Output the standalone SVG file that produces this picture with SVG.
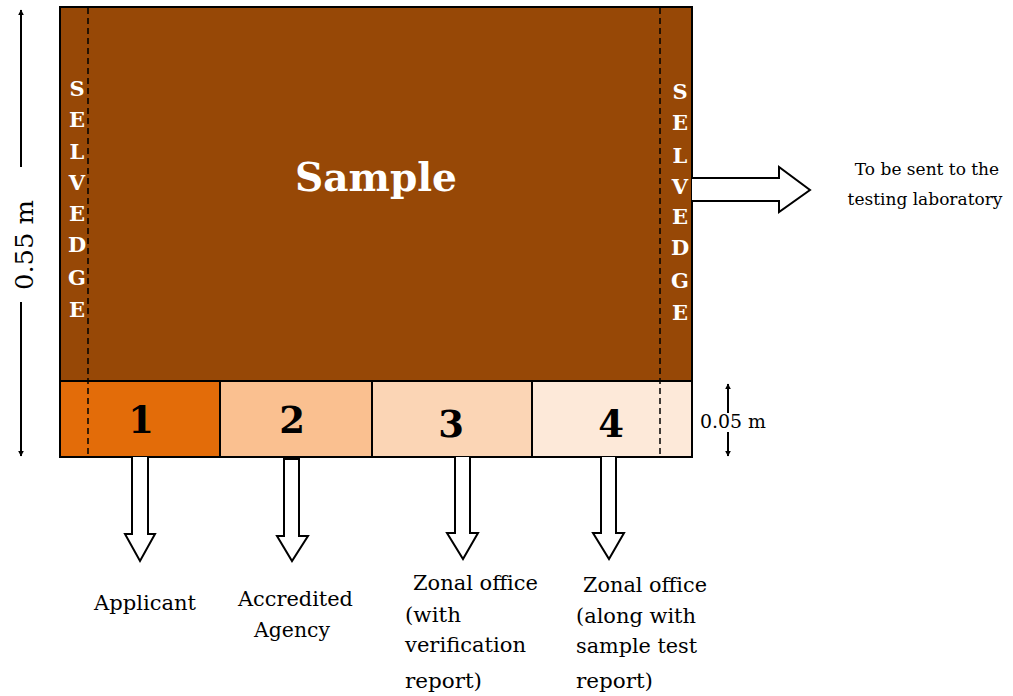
<svg xmlns="http://www.w3.org/2000/svg" width="1013" height="696" viewBox="0 0 1013 696">
<defs>
<style>
.sel{font-family:'DejaVu Serif',serif;font-weight:bold;font-size:21px;fill:#fff;text-anchor:middle}
.num{font-family:'DejaVu Serif',serif;font-weight:bold;font-size:37px;fill:#000;text-anchor:middle}
.lbl{font-family:'DejaVu Serif',serif;font-size:20px;fill:#000}
.lab{font-family:'DejaVu Serif',serif;font-size:17px;fill:#000}
.box{stroke:#000;stroke-width:2}
.dash{stroke:#000;stroke-width:1.5;stroke-dasharray:6,4;fill:none}
.arr{fill:#fff;stroke:#000;stroke-width:2;stroke-linejoin:miter}
.dim{stroke:#000;stroke-width:2;fill:none}
</style>
<marker id="ah" viewBox="0 0 10 10" refX="9" refY="5" markerWidth="6" markerHeight="6" markerUnits="userSpaceOnUse" orient="auto-start-reverse"><path d="M0,0 L10,5 L0,10 z" fill="#000"/></marker>
</defs>
<rect width="1013" height="696" fill="#fff"/>
<g id="sample">
<rect x="60" y="7" width="632" height="374" fill="#974806" class="box"/>
<text x="376" y="191" font-family="'DejaVu Serif', serif" font-weight="bold" font-size="40" fill="#fff" text-anchor="middle" textLength="162" lengthAdjust="spacingAndGlyphs">Sample</text>
</g>
<g id="selvedge-left">
<text class="sel" x="77" y="96">S</text>
<text class="sel" x="77" y="127">E</text>
<text class="sel" x="77" y="159">L</text>
<text class="sel" x="77" y="190">V</text>
<text class="sel" x="77" y="221">E</text>
<text class="sel" x="77" y="252">D</text>
<text class="sel" x="77" y="285">G</text>
<text class="sel" x="77" y="317">E</text>
</g>
<g id="selvedge-right">
<text class="sel" x="680" y="99">S</text>
<text class="sel" x="680" y="130">E</text>
<text class="sel" x="680" y="163">L</text>
<text class="sel" x="680" y="194">V</text>
<text class="sel" x="680" y="224">E</text>
<text class="sel" x="680" y="255">D</text>
<text class="sel" x="680" y="288">G</text>
<text class="sel" x="680" y="320">E</text>
</g>
<g id="part1">
<rect x="60" y="381" width="160" height="76" fill="#E36C09" class="box"/>
<text class="num" x="141" y="433">1</text>
</g>
<g id="part2">
<rect x="220" y="381" width="152" height="76" fill="#FAC090" class="box"/>
<text class="num" x="292" y="433">2</text>
</g>
<g id="part3">
<rect x="372" y="381" width="160" height="76" fill="#FBD5B5" class="box"/>
<text class="num" x="451" y="437">3</text>
</g>
<g id="part4">
<rect x="532" y="381" width="160" height="76" fill="#FDE9D9" class="box"/>
<text class="num" x="611" y="437">4</text>
</g>
<g id="dashes">
<line class="dash" x1="88" y1="8" x2="88" y2="457"/>
<line class="dash" x1="660" y1="8" x2="660" y2="457"/>
</g>
<g id="connectors">
<path class="arr" d="M692,178 L779,178 L779,167 L810,190 L779,212 L779,201 L692,201"/>
<path class="arr" d="M132,457 L132,534 L125,534 L140,561 L155,534 L148,534 L148,457"/>
<path class="arr" d="M284,459 L284,536 L277,536 L292,561 L308,536 L299,536 L299,459 Z"/>
<path class="arr" d="M455,457 L455,533 L447,533 L463,559 L478,533 L470,533 L470,457"/>
<path class="arr" d="M601,457 L601,533 L593,533 L609,559 L624,533 L616,533 L616,457"/>
</g>
<g id="dimension-055">
<line class="dim" x1="21" y1="167" x2="21" y2="10" marker-end="url(#ah)"/>
<line class="dim" x1="21" y1="302" x2="21" y2="456" marker-end="url(#ah)"/>
<text transform="translate(33,290) rotate(-90)" font-family="'DejaVu Serif', serif" font-size="25" fill="#000" textLength="90" lengthAdjust="spacingAndGlyphs">0.55 m</text>
</g>
<g id="dimension-005">
<line class="dim" x1="728" y1="413" x2="728" y2="384" marker-end="url(#ah)"/>
<line class="dim" x1="728" y1="432" x2="728" y2="456" marker-end="url(#ah)"/>
<text x="700" y="428" font-family="'DejaVu Serif', serif" font-size="19" fill="#000" textLength="66" lengthAdjust="spacingAndGlyphs">0.05 m</text>
</g>
<g id="label-lab">
<text class="lab" x="927" y="175" text-anchor="middle">To be sent to the</text>
<text class="lab" x="925" y="205" text-anchor="middle">testing laboratory</text>
</g>
<g id="label-1">
<text class="lbl" x="94" y="610" textLength="102" lengthAdjust="spacingAndGlyphs">Applicant</text>
</g>
<g id="label-2">
<text class="lbl" x="238" y="606" textLength="115" lengthAdjust="spacingAndGlyphs">Accredited</text>
<text class="lbl" x="254" y="637" textLength="76" lengthAdjust="spacingAndGlyphs">Agency</text>
</g>
<g id="label-3">
<text class="lbl" x="413" y="590" textLength="125" lengthAdjust="spacingAndGlyphs">Zonal office</text>
<text class="lbl" x="405" y="622" textLength="56" lengthAdjust="spacingAndGlyphs">(with</text>
<text class="lbl" x="405" y="652" textLength="121" lengthAdjust="spacingAndGlyphs">verification</text>
<text class="lbl" x="405" y="688" textLength="77" lengthAdjust="spacingAndGlyphs">report)</text>
</g>
<g id="label-4">
<text class="lbl" x="583" y="592" textLength="124" lengthAdjust="spacingAndGlyphs">Zonal office</text>
<text class="lbl" x="576" y="623" textLength="120" lengthAdjust="spacingAndGlyphs">(along with</text>
<text class="lbl" x="576" y="653" textLength="121" lengthAdjust="spacingAndGlyphs">sample test</text>
<text class="lbl" x="576" y="688" textLength="77" lengthAdjust="spacingAndGlyphs">report)</text>
</g>
</svg>
